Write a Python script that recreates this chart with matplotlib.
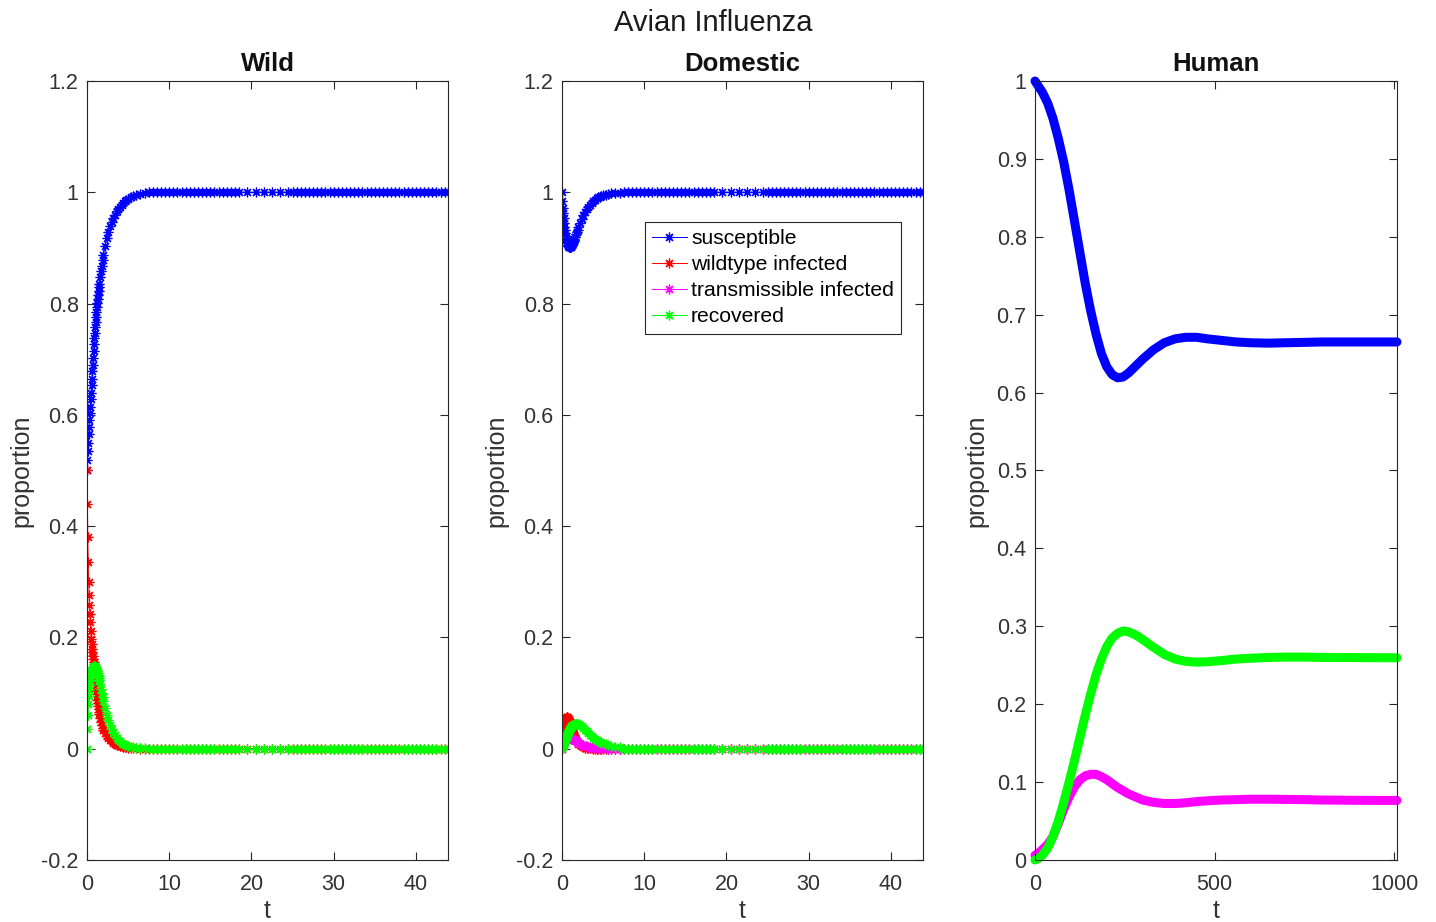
import matplotlib
matplotlib.use("Agg")
import matplotlib.pyplot as plt

plt.rcParams["font.family"] = ["Liberation Sans", "DejaVu Sans"]

# ── Avian panels: solver sample times ────────────────────────────────────────
T_EARLY = [0.0, 0.05, 0.1, 0.15, 0.2, 0.25, 0.3, 0.35, 0.4, 0.45,
           0.5, 0.55, 0.6, 0.65, 0.7, 0.75, 0.8, 0.85, 0.9, 0.95,
           1.0, 1.05, 1.1, 1.15, 1.2, 1.25, 1.3, 1.35, 1.4, 1.45, 1.5,
           1.6, 1.7, 1.8, 1.9, 2.0,
           2.2, 2.4, 2.6, 2.8, 3.0, 3.2, 3.4, 3.6, 3.8,
           4.0, 4.2, 4.4, 4.6, 4.8, 5.0, 5.3, 5.6, 6.0, 6.5, 7.0]
T_LATE = [7.5, 8.0, 8.5, 9.0, 9.5, 10.0, 10.5, 11.0, 11.5, 12.0, 12.5,
          13.0, 13.5, 14.0, 14.5, 15.0, 15.5, 16.0, 16.5, 17.0, 17.5,
          18.0, 18.5, 19.5, 20.5, 21.5, 22.5, 23.5, 24.5, 25.0, 25.5,
          26.0, 26.5, 27.0, 27.5, 28.0, 28.5, 29.0, 29.5, 30.0, 30.5,
          31.0, 31.5, 32.0, 32.5, 33.0, 33.5, 34.0, 34.5, 35.0, 35.5,
          36.0, 36.5, 37.0, 37.5, 38.0, 38.5, 39.0, 39.5, 40.0, 40.5,
          41.0, 41.5, 42.0, 42.5, 43.0, 43.5, 43.9]

# ── Wild birds (values on T_EARLY, then settled value on T_LATE) ────────────
WILD_S = [0.500, 0.518, 0.535, 0.550, 0.565, 0.578, 0.590, 0.603, 0.615, 0.628,
          0.640, 0.653, 0.665, 0.678, 0.690, 0.703, 0.715, 0.727, 0.738, 0.748,
          0.758, 0.767, 0.776, 0.785, 0.793, 0.801, 0.808, 0.815, 0.822, 0.829, 0.835,
          0.847, 0.858, 0.868, 0.878, 0.887,
          0.903, 0.917, 0.929, 0.939, 0.947, 0.954, 0.960, 0.966, 0.970,
          0.974, 0.978, 0.981, 0.984, 0.986, 0.988, 0.991, 0.993, 0.995, 0.997, 0.998]
WILD_W = [0.500, 0.440, 0.380, 0.335, 0.300, 0.276, 0.258, 0.242, 0.228, 0.212,
          0.198, 0.189, 0.180, 0.173, 0.166, 0.161, 0.156, 0.152, 0.147, 0.140,
          0.132, 0.123, 0.114, 0.104, 0.095, 0.088, 0.082, 0.076, 0.071, 0.066, 0.062,
          0.055, 0.048, 0.043, 0.038, 0.034,
          0.028, 0.023, 0.019, 0.016, 0.013, 0.011, 0.009, 0.0075, 0.006,
          0.005, 0.004, 0.0033, 0.0027, 0.0022, 0.0018, 0.0013, 0.001, 0.0006, 0.0003, 0.0002]
WILD_R = [0.000, 0.035, 0.060, 0.080, 0.095, 0.106, 0.115, 0.122, 0.128, 0.132,
          0.136, 0.139, 0.141, 0.143, 0.145, 0.146, 0.147, 0.148, 0.148, 0.148,
          0.147, 0.146, 0.145, 0.143, 0.141, 0.139, 0.136, 0.133, 0.130, 0.127, 0.123,
          0.116, 0.108, 0.100, 0.093, 0.086,
          0.073, 0.061, 0.051, 0.042, 0.035, 0.029, 0.024, 0.020, 0.016,
          0.013, 0.011, 0.009, 0.0075, 0.006, 0.005, 0.0038, 0.0028, 0.0018, 0.001, 0.0006]
WILD_END = {"S": 1.0, "W": 0.0, "R": 0.0}

# ── Domestic birds ───────────────────────────────────────────────────────────
DOM_S = [1.000, 0.985, 0.972, 0.962, 0.953, 0.945, 0.938, 0.932, 0.926, 0.921,
         0.917, 0.914, 0.911, 0.908, 0.906, 0.904, 0.903, 0.902, 0.902, 0.902,
         0.902, 0.902, 0.903, 0.904, 0.905, 0.906, 0.908, 0.910, 0.912, 0.914, 0.916,
         0.920, 0.925, 0.929, 0.933, 0.937,
         0.945, 0.952, 0.959, 0.965, 0.970, 0.974, 0.978, 0.981, 0.984,
         0.987, 0.989, 0.991, 0.992, 0.994, 0.995, 0.996, 0.997, 0.998, 0.999, 0.9995]
DOM_W = [0.000, 0.014, 0.025, 0.033, 0.040, 0.045, 0.049, 0.052, 0.054, 0.055,
         0.056, 0.0565, 0.057, 0.0565, 0.056, 0.0545, 0.053, 0.051, 0.049, 0.0465,
         0.044, 0.0415, 0.039, 0.0365, 0.034, 0.0315, 0.029, 0.027, 0.025, 0.023, 0.021,
         0.018, 0.015, 0.012, 0.010, 0.0085,
         0.006, 0.004, 0.003, 0.002, 0.0015, 0.001, 0.0007, 0.0005, 0.0003,
         0.0002, 0.0001, 0.0001, 0.0, 0.0, 0.0, 0.0, 0.0, 0.0, 0.0, 0.0]
DOM_T = [0.000, 0.0035, 0.006, 0.008, 0.010, 0.0115, 0.013, 0.014, 0.015, 0.016,
         0.017, 0.0175, 0.018, 0.0185, 0.019, 0.0193, 0.0195, 0.0195, 0.0195, 0.0193,
         0.019, 0.0188, 0.0185, 0.0183, 0.018, 0.0175, 0.017, 0.0168, 0.0165, 0.0163, 0.016,
         0.015, 0.014, 0.013, 0.012, 0.011,
         0.009, 0.0075, 0.006, 0.005, 0.004, 0.0033, 0.0027, 0.0022, 0.0018,
         0.0015, 0.0012, 0.001, 0.0008, 0.0006, 0.0005, 0.0004, 0.0003, 0.0002, 0.0001, 0.0001]
DOM_R = [0.000, 0.002, 0.004, 0.006, 0.008, 0.010, 0.012, 0.014, 0.016, 0.018,
         0.020, 0.022, 0.024, 0.026, 0.028, 0.0295, 0.031, 0.0325, 0.034, 0.0355,
         0.037, 0.038, 0.039, 0.040, 0.041, 0.0415, 0.042, 0.0425, 0.043, 0.0435, 0.044,
         0.0445, 0.045, 0.045, 0.0445, 0.044,
         0.042, 0.040, 0.037, 0.034, 0.031, 0.028, 0.025, 0.022, 0.020,
         0.018, 0.016, 0.014, 0.012, 0.011, 0.010, 0.008, 0.0065, 0.005, 0.0035, 0.0025]
DOM_END = {"S": 1.0, "W": 0.0, "T": 0.0, "R": 0.0}

# ── Humans ───────────────────────────────────────────────────────────────────
T_HUM = [0, 10, 20, 35, 50, 65, 80, 95, 110, 125, 140, 155, 170, 185, 200,
         215, 230, 245, 260, 280, 300, 330, 360, 390, 420, 450, 480, 520,
         560, 600, 650, 700, 750, 800, 850, 900, 950, 1008]
HUM_S = [1.0, 0.993, 0.986, 0.972, 0.952, 0.926, 0.896, 0.860, 0.820, 0.780,
         0.740, 0.705, 0.675, 0.650, 0.633, 0.623, 0.619, 0.620, 0.625, 0.634,
         0.643, 0.655, 0.664, 0.669, 0.671, 0.671, 0.669, 0.667, 0.665, 0.664,
         0.6635, 0.664, 0.6645, 0.665, 0.665, 0.665, 0.665, 0.665]
HUM_T = [0.006, 0.009, 0.013, 0.020, 0.030, 0.047, 0.065, 0.081, 0.094, 0.103,
         0.108, 0.110, 0.110, 0.107, 0.103, 0.098, 0.093, 0.089, 0.085, 0.081,
         0.077, 0.074, 0.0725, 0.0725, 0.0735, 0.075, 0.076, 0.077, 0.0775, 0.078,
         0.078, 0.0778, 0.0775, 0.077, 0.0768, 0.0766, 0.0765, 0.0765]
HUM_R = [0.0, 0.002, 0.006, 0.015, 0.030, 0.050, 0.074, 0.100, 0.128, 0.157,
         0.186, 0.213, 0.238, 0.258, 0.274, 0.285, 0.291, 0.294, 0.293, 0.289,
         0.283, 0.273, 0.264, 0.258, 0.255, 0.254, 0.2545, 0.256, 0.258, 0.259,
         0.260, 0.2605, 0.2605, 0.260, 0.260, 0.2598, 0.2597, 0.2596]

LABELS = ["susceptible", "wildtype infected", "transmissible infected", "recovered"]
COLORS = {"S": "#0000ff", "W": "#ff0000", "T": "#ff00ff", "R": "#00ff00"}
AX_COL = "#262626"
TXT_COL = "#333333"
STAR = (8, 2, 0)   # MATLAB-style '*' asterisk

T_AVIAN = T_EARLY + T_LATE

fig = plt.figure(figsize=(14.36, 9.22), dpi=100)
W, H = 1436, 922


def make_ax(left, right, top=81, bottom=860):
    return fig.add_axes([left / W, 1 - bottom / H, (right - left) / W, (bottom - top) / H])


def style(ax, title):
    ax.set_title(title, fontsize=18.5, fontweight="bold", color="#111111", pad=7.5)
    ax.set_xlabel("t", fontsize=18, color=TXT_COL, labelpad=3)
    ax.set_ylabel("proportion", fontsize=18, color=TXT_COL, labelpad=5.5)
    ax.tick_params(direction="in", length=6, width=0.8, top=True, right=True,
                   labelsize=15.5, colors=AX_COL, labelcolor=TXT_COL)
    ax.tick_params(axis="x", pad=10)
    ax.tick_params(axis="y", pad=6)
    for sp in ax.spines.values():
        sp.set_color(AX_COL)
        sp.set_linewidth(0.8)


def avian(ax, series, end):
    lines = []
    for key, vals in series:
        y = vals + [end[key]] * len(T_LATE)
        ln, = ax.plot(T_AVIAN, y, color=COLORS[key], lw=0.7, marker=STAR,
                      ms=7, mew=0.9, label=LABELS["SWTR".index(key)])
        lines.append(ln)
    ax.set_xlim(0, 43.9)
    ax.set_ylim(-0.2, 1.2)
    ax.set_xticks([0, 10, 20, 30, 40])
    ax.set_yticks([-0.2, 0, 0.2, 0.4, 0.6, 0.8, 1.0, 1.2])
    ax.set_yticklabels(["-0.2", "0", "0.2", "0.4", "0.6", "0.8", "1", "1.2"])
    return lines


ax1 = make_ax(87, 448)
avian(ax1, [("S", WILD_S), ("W", WILD_W), ("R", WILD_R)], WILD_END)
style(ax1, "Wild")

ax2 = make_ax(562, 923)
dom_lines = avian(ax2, [("S", DOM_S), ("W", DOM_W), ("T", DOM_T), ("R", DOM_R)], DOM_END)
style(ax2, "Domestic")
leg = ax2.legend(handles=dom_lines, loc="upper right", bbox_to_anchor=(0.94, 0.819),
                 fontsize=15.2, frameon=True, fancybox=False, framealpha=1,
                 edgecolor=AX_COL, handlelength=1.65, handletextpad=0.2,
                 labelspacing=0.33, borderpad=0.35, borderaxespad=0)
leg.get_frame().set_linewidth(0.8)
for txt in leg.get_texts():
    txt.set_color("#000000")

ax3 = make_ax(1035, 1397)
ax3.plot(T_HUM, HUM_S, color=COLORS["S"], lw=6.5, solid_capstyle="round")
ax3.plot(T_HUM, HUM_T, color=COLORS["T"], lw=6.5, solid_capstyle="round")
ax3.plot(T_HUM, HUM_R, color=COLORS["R"], lw=6.5, solid_capstyle="round")
ax3.set_xlim(0, 1008)
ax3.set_ylim(0, 1)
ax3.set_xticks([0, 500, 1000])
ax3.set_yticks([i / 10 for i in range(11)])
ax3.set_yticklabels(["0"] + [f"0.{i}" for i in range(1, 10)] + ["1"])
style(ax3, "Human")
for ln in ax3.get_lines():
    ln.set_clip_on(False)

fig.suptitle("Avian Influenza", x=0.497, y=0.9905, fontsize=21, color="#1a1a1a")

fig.savefig("out.png", dpi=100, facecolor="white")
